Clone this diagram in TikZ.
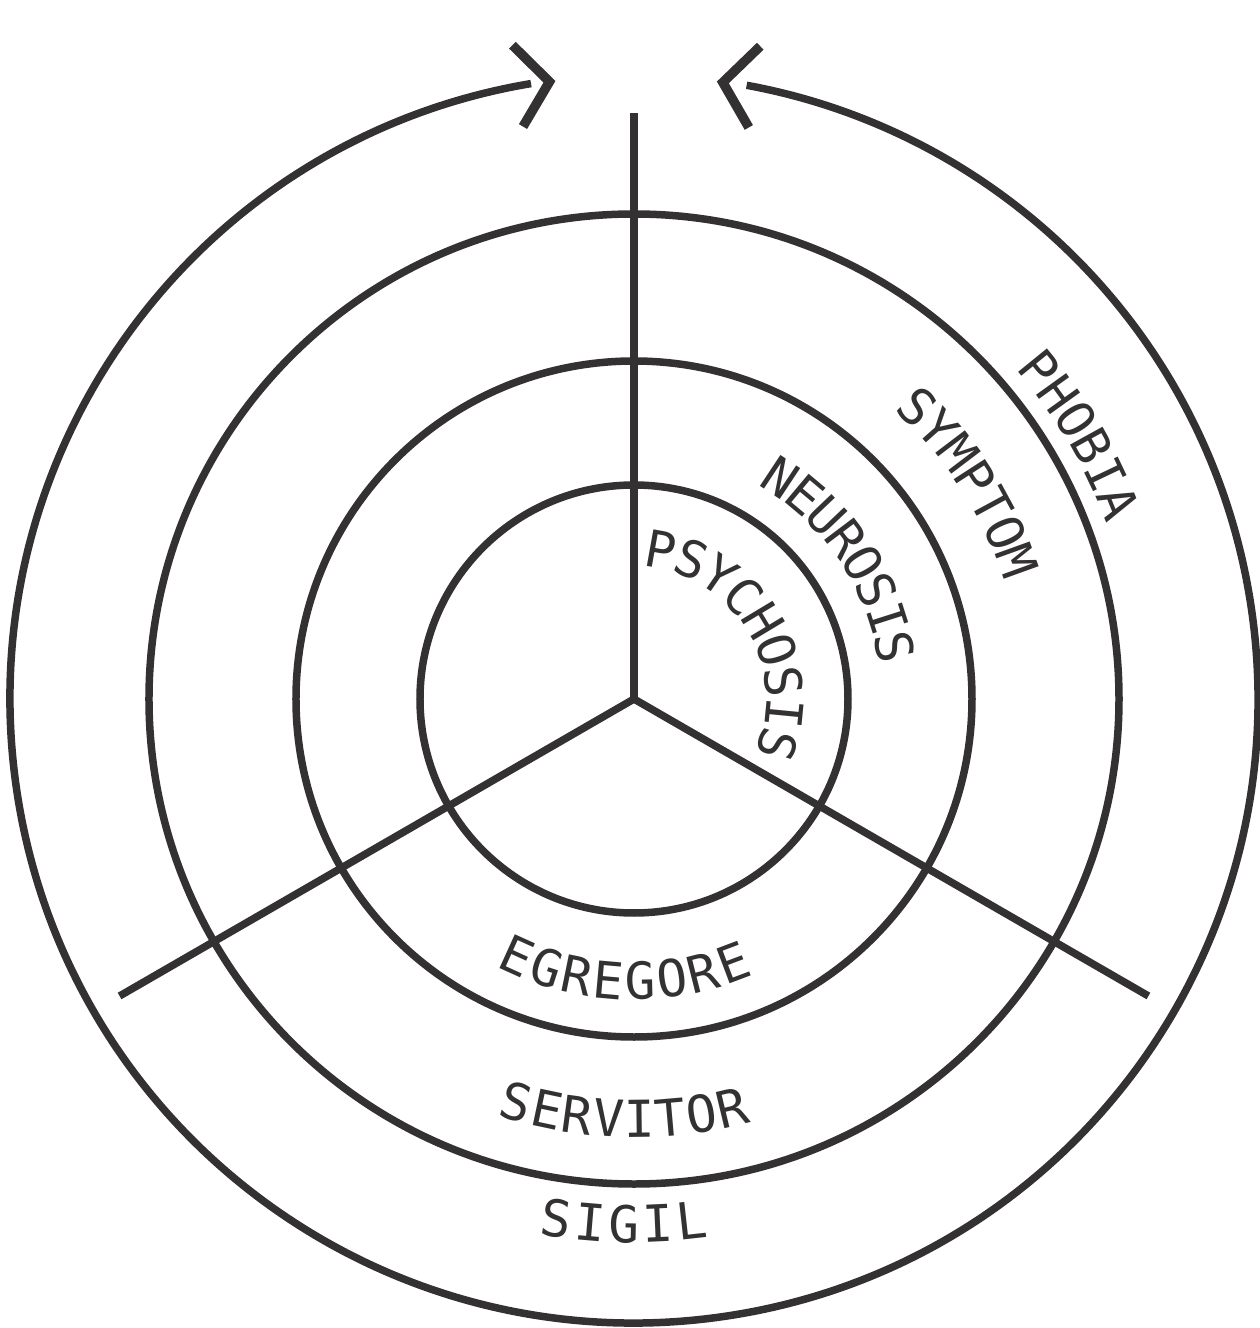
\documentclass[tikz,border=0pt]{standalone}
\usepackage{fontspec}
\newfontfamily\ringfont{DejaVu Sans Mono}
\definecolor{ink}{RGB}{51,49,50}

\begin{document}
\begin{tikzpicture}[
x=0.02cm, y=0.02cm,
ring/.style={draw=ink, line width=0.15cm},
spoke/.style={draw=ink, line width=0.15cm},
chevron/.style={draw=ink, line width=0.19cm, line join=miter, line cap=butt},
lbl/.style={font=\ringfont\fontsize{29}{30}\selectfont, text=ink, inner sep=0pt}
]
\useasboundingbox (-634,-629) rectangle (625,699);

\coordinate (hub) at (0,0);
\coordinate (up) at (90:586);
\coordinate (downleft) at (210:594);
\coordinate (downright) at (330:594);
\coordinate (leftend) at (99.5:624);
\coordinate (lefttip) at (97.8:623);
\coordinate (righttip) at (81.8:623);

% rings
\draw[ring] (hub) circle[radius=214];
\draw[ring] (hub) circle[radius=338];
\draw[ring] (hub) circle[radius=485];
\draw[ring] (leftend) arc[start angle=99.5, end angle=439.6, radius=624];
\draw[chevron, shift={(lefttip)}, rotate=7.4] (-32,41) -- (0,0) -- (-32,-41);
\draw[chevron, shift={(righttip)}, rotate=172] (-32,41) -- (0,0) -- (-32,-41);

% spokes
\draw[spoke] (hub) -- (up);
\draw[spoke] (hub) -- (downleft);
\draw[spoke] (hub) -- (downright);

% labels, upper right (read clockwise)
\foreach \ch [count=\i from 0] in {P,S,Y,C,H,O,S,I,S}
  \node[lbl, rotate=79.8-\i*12.19-90] (psychosis\i) at ({79.8-\i*12.19}:151) {\ch};
\foreach \ch [count=\i from 0] in {N,E,U,R,O,S,I,S}
  \node[lbl, rotate=56.5-\i*6.47-90] (neurosis\i) at ({56.5-\i*6.47}:266) {\ch};
\foreach \ch [count=\i from 0] in {S,Y,M,P,T,O,M}
  \node[lbl, rotate=45.9-\i*4.35-90] (symptom\i) at ({45.9-\i*4.35}:407) {\ch};
\foreach \ch [count=\i from 0] in {P,H,O,B,I,A}
  \node[lbl, rotate=39.1-\i*3.4-90] (phobia\i) at ({39.1-\i*3.4}:523) {\ch};

% labels, bottom (read left to right)
\foreach \ch [count=\i from 0] in {E,G,R,E,G,O,R,E}
  \node[lbl, rotate=245.6+\i*6.43+90] (egregore\i) at ({245.6+\i*6.43}:282) {\ch};
\foreach \ch [count=\i from 0] in {S,E,R,V,I,T,O,R}
  \node[lbl, rotate=253.8+\i*4.24+90] (servitor\i) at ({253.8+\i*4.24}:420) {\ch};
\foreach \ch [count=\i from 0] in {S,I,G,I,L}
  \node[lbl, rotate=261.5+\i*3.7+90] (sigil\i) at ({261.5+\i*3.7}:525) {\ch};
\end{tikzpicture}
\end{document}
